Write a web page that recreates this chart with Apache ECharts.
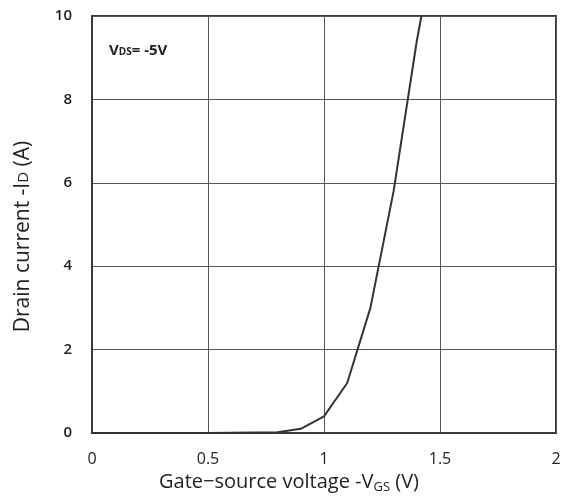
<!DOCTYPE html>
<html>
<head>
<meta charset="utf-8">
<script src="https://cdn.jsdelivr.net/npm/echarts@6/dist/echarts.min.js"></script>
<style>
  html, body { margin: 0; padding: 0; background: #fff; }
  #chart { width: 565px; height: 499px; }
</style>
</head>
<body>
<div id="chart"></div>
<script>
// -VGS (V) vs -ID (A)
const vgs = [0, 0.5, 0.8, 0.9, 1.0, 1.1, 1.2, 1.3, 1.4, 1.42];
const idA = [0, 0, 0.02, 0.1, 0.4, 1.2, 3.0, 5.8, 9.4, 10.0];
const xTicks = [0, 0.5, 1, 1.5, 2];
const yTicks = [0, 2, 4, 6, 8, 10];

const font = "'Open Sans', 'Liberation Sans', sans-serif";
const chart = echarts.init(document.getElementById("chart"));

chart.setOption({
  animation: false,
  grid: { left: 92, right: 9, top: 16, bottom: 65, show: true, borderColor: "#3a3a3a", borderWidth: 2 },
  xAxis: {
    type: "value",
    min: xTicks[0],
    max: xTicks[xTicks.length - 1],
    interval: 0.5,
    axisLine: { show: true, lineStyle: { color: "#3a3a3a", width: 2 } },
    axisTick: { show: false },
    splitLine: { show: true, lineStyle: { color: "#555", width: 1 } },
    axisLabel: { color: "#222", fontFamily: font, fontSize: 16, margin: 18 },
    nameLocation: "middle",
    nameGap: 38,
    name: "Gate\u2212source voltage -V{s|GS} (V)",
    nameTextStyle: {
      color: "#222",
      fontFamily: font,
      fontSize: 20,
      padding: [0, 70, 0, 0],
      rich: { s: { fontFamily: font, fontSize: 13, color: "#222", padding: [10, 0, 0, 0] } }
    }
  },
  yAxis: {
    type: "value",
    min: yTicks[0],
    max: yTicks[yTicks.length - 1],
    interval: 2,
    axisLine: { show: true, lineStyle: { color: "#3a3a3a", width: 2 } },
    axisTick: { show: false },
    splitLine: { show: true, lineStyle: { color: "#555", width: 1 } },
    axisLabel: { color: "#222", fontFamily: font, fontSize: 15, fontWeight: 600, margin: 20 },
    nameLocation: "middle",
    nameGap: 58,
    name: "Drain current -I{s|D} (A)",
    nameTextStyle: {
      color: "#222",
      fontFamily: font,
      fontSize: 21,
      padding: [0, 24, 0, 0],
      rich: { s: { fontFamily: font, fontSize: 15, color: "#222" } }
    }
  },
  graphic: [{
    type: "text",
    left: 109,
    top: 43,
    style: {
      text: "V{s|DS}= -5V",
      font: "bold 15px " + font,
      fill: "#222",
      rich: { s: { fontFamily: font, fontWeight: "bold", fontSize: 10, fill: "#222", padding: [3, 0, 0, 0] } }
    }
  }],
  series: [{
    type: "line",
    data: vgs.map((v, i) => [v, idA[i]]),
    showSymbol: false,
    lineStyle: { color: "#333", width: 2 },
    clip: true
  }]
});
</script>
</body>
</html>
